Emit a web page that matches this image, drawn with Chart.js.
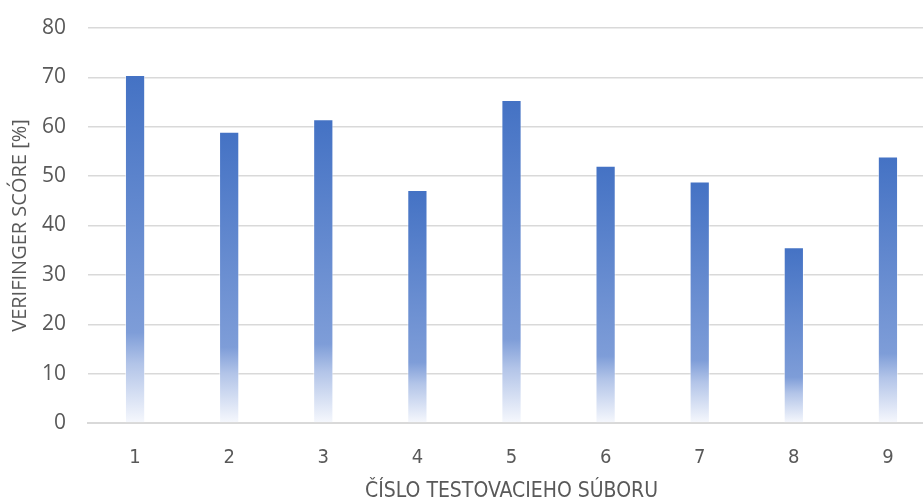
<!DOCTYPE html>
<html>
<head>
<meta charset="utf-8">
<script src="https://cdn.jsdelivr.net/npm/chart.js@4"></script>
<style>
  html, body { margin: 0; padding: 0; background: #ffffff; overflow: hidden; }
  #wrap { width: 935px; height: 503px; position: relative; }
</style>
</head>
<body>
<div id="wrap"><canvas id="chart"></canvas></div>
<script>
// Test file numbers and their VeriFinger scores (%)
const fileNumbers = ['1', '2', '3', '4', '5', '6', '7', '8', '9'];
const scores = [70.5, 59.0, 61.5, 47.2, 65.4, 52.1, 48.9, 35.6, 54.0];

const yAxisTitle = 'VERIFINGER SCÓRE [%]';
const xAxisTitle = 'ČÍSLO TESTOVACIEHO SÚBORU';

const narrowFont = "'Liberation Sans Narrow', 'DejaVu Sans Condensed', 'Roboto', sans-serif";
const plainFont = "'Open Sans', 'Liberation Sans', sans-serif";

// Each bar gets its own vertical gradient: solid blue at the top fading to white at zero
function barGradient(context) {
  const chart = context.chart;
  const area = chart.chartArea;
  if (!area || context.type !== 'data') return '#4472C4';
  const yScale = chart.scales.y;
  const top = yScale.getPixelForValue(context.parsed.y);
  const bottom = yScale.getPixelForValue(0);
  const g = chart.ctx.createLinearGradient(0, top, 0, bottom);
  g.addColorStop(0, '#4472C4');
  g.addColorStop(0.74, '#7e9dd8');
  g.addColorStop(0.83, '#b2c4e8');
  g.addColorStop(1, '#f6f8fd');
  return g;
}

new Chart(document.getElementById('chart'), {
  type: 'bar',
  data: {
    labels: fileNumbers,
    datasets: [{
      data: scores,
      backgroundColor: barGradient,
      borderColor: 'rgba(255,255,255,0.55)',
      borderWidth: 1,
      categoryPercentage: 1.0,
      barPercentage: 0.215
    }]
  },
  options: {
    responsive: true,
    maintainAspectRatio: false,
    animation: false,
    layout: { padding: { top: 28, right: 0, bottom: 0, left: 0 } },
    plugins: {
      legend: { display: false },
      tooltip: { enabled: false }
    },
    scales: {
      x: {
        grid: { display: false, drawTicks: false },
        border: { display: true, color: '#d9d9d9', width: 2 },
        ticks: {
          color: '#595959',
          padding: 23,
          font: { family: narrowFont, size: 20 }
        },
        title: {
          display: true,
          text: xAxisTitle,
          color: '#595959',
          padding: { top: -13.7, bottom: -1.5 },
          font: { family: narrowFont, size: 21 }
        }
      },
      y: {
        min: 0,
        max: 80,
        // the top edge of the plot is set by the layout padding alone
        afterFit: (scale) => { scale.paddingTop = 0; },
        grid: { color: '#d9d9d9', lineWidth: 1.5, drawTicks: false },
        border: { display: false },
        ticks: {
          stepSize: 10,
          color: '#595959',
          padding: 22,
          font: { family: plainFont, size: 21 }
        },
        title: {
          display: true,
          text: yAxisTitle,
          color: '#595959',
          padding: { top: 8, bottom: -12 },
          font: { family: plainFont, size: 20 }
        }
      }
    }
  }
});
</script>
</body>
</html>
